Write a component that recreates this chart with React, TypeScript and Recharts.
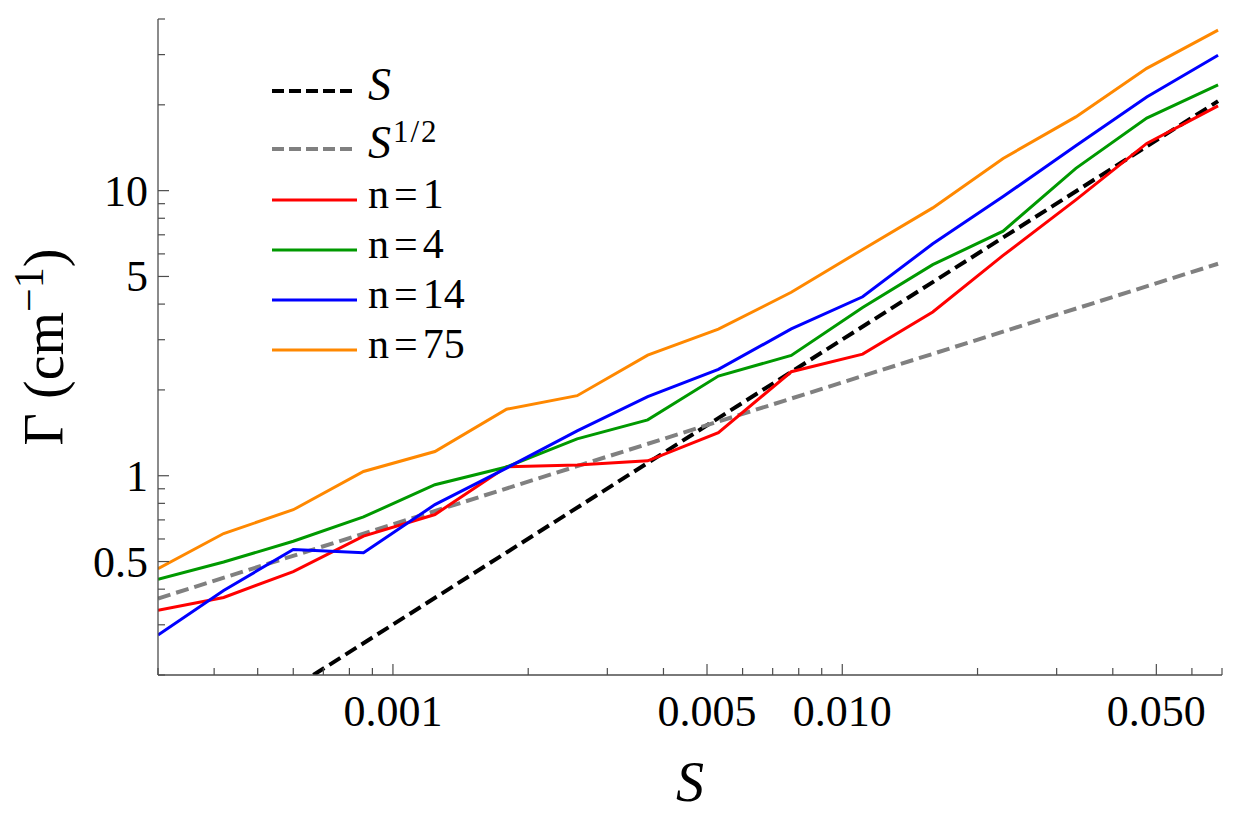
import { Legend, Line, LineChart, XAxis, YAxis } from "recharts";

const FONT = '"Liberation Serif", "Times New Roman", Times, serif';
const AXIS_COLOR = "#4d4d4d";

// S values shared by all simulated series
const sValues = [
    0.0003, 0.00042, 0.0006, 0.00086, 0.00124, 0.00179, 0.00257, 0.00369,
    0.0053, 0.0077, 0.0111, 0.0159, 0.0228, 0.0331, 0.0476, 0.0686,
];

const gammaN1 = [0.337, 0.374, 0.461, 0.614, 0.731, 1.075, 1.09, 1.128, 1.417, 2.316, 2.671, 3.753, 5.926, 9.28, 14.64, 19.83];
const gammaN4 = [0.433, 0.498, 0.589, 0.717, 0.93, 1.073, 1.347, 1.57, 2.237, 2.643, 3.89, 5.499, 7.207, 11.97, 17.96, 23.48];
const gammaN14 = [0.276, 0.396, 0.551, 0.537, 0.792, 1.064, 1.437, 1.894, 2.361, 3.273, 4.243, 6.51, 9.53, 14.37, 21.32, 29.83];
const gammaN75 = [0.472, 0.627, 0.76, 1.035, 1.216, 1.711, 1.909, 2.649, 3.266, 4.4, 6.22, 8.7, 12.97, 18.14, 26.85, 36.55];

// reference power laws (end points)
const linearS = [0.000665, 0.0686];
const linearGamma = [0.2, 20.6];
const sqrtS = [0.0003, 0.0686];
const sqrtGamma = [0.371, 5.54];

const xTicks = [
    0.0003, 0.0004, 0.0005, 0.0006, 0.0007, 0.0008, 0.0009,
    0.001, 0.002, 0.003, 0.004, 0.005, 0.006, 0.007, 0.008, 0.009,
    0.01, 0.02, 0.03, 0.04, 0.05, 0.06, 0.07,
];
const xMajor = [0.001, 0.005, 0.01, 0.05];
const xMajorLabels = ["0.001", "0.005", "0.010", "0.050"];

const yTicks = [
    0.2, 0.3, 0.4, 0.5, 0.6, 0.7, 0.8, 0.9,
    1, 2, 3, 4, 5, 6, 7, 8, 9,
    10, 20, 30, 40,
];
const yMajor = [0.5, 1, 5, 10];
const yMajorLabels = ["0.5", "1", "5", "10"];

const toPoints = (xs: number[], ys: number[]) => xs.map((s, i) => ({ s, g: ys[i] }));

const XTick = ({ x, y, payload }: any) => {
    const idx = xMajor.indexOf(payload.value);
    const major = idx >= 0;
    return (
        <g>
            <line x1={x} x2={x} y1={y} y2={y - (major ? 11 : 7)} stroke={AXIS_COLOR} strokeWidth={1.2} />
            {major && (
                <text x={x} y={y + 51} textAnchor="middle" fontFamily={FONT} fontSize={44} fill="#000">
                    {xMajorLabels[idx]}
                </text>
            )}
        </g>
    );
};

const YTick = ({ x, y, payload }: any) => {
    const idx = yMajor.indexOf(payload.value);
    const major = idx >= 0;
    return (
        <g>
            <line x1={x} x2={x + (major ? 11 : 7)} y1={y} y2={y} stroke={AXIS_COLOR} strokeWidth={1.2} />
            {major && (
                <text x={x - 10} y={y + 15} textAnchor="end" fontFamily={FONT} fontSize={44} fill="#000">
                    {yMajorLabels[idx]}
                </text>
            )}
        </g>
    );
};

const XTitle = ({ viewBox }: any) => (
    <text
        x={viewBox.x + viewBox.width / 2}
        y={viewBox.y + 126}
        textAnchor="middle"
        fontFamily={FONT}
        fontStyle="italic"
        fontSize={56}
        fill="#000"
    >
        S
    </text>
);

const YTitle = ({ viewBox }: any) => {
    const cx = viewBox.x - 15;
    const cy = viewBox.y + viewBox.height / 2;
    return (
        <text
            x={cx}
            y={cy}
            transform={`rotate(-90, ${cx}, ${cy})`}
            textAnchor="middle"
            fontFamily={FONT}
            fontSize={56}
            fill="#000"
        >
            Γ (cm
            <tspan dy={-20} fontSize={42}>−1</tspan>
            <tspan dy={20}>)</tspan>
        </text>
    );
};

const legendRows = [
    { key: "S", color: "#000000", dash: "12 5" },
    { key: "S12", color: "#808080", dash: "12 5" },
    { key: "n=1", color: "#ff0000", dash: undefined },
    { key: "n=4", color: "#009900", dash: undefined },
    { key: "n=14", color: "#0000ff", dash: undefined },
    { key: "n=75", color: "#ff8800", dash: undefined },
];
const legendRowY = [31, 89, 140, 190, 240, 290];

const LegendBox = () => (
    <svg width={260} height={320} style={{ display: "block" }}>
        {legendRows.map((row, i) => {
            const y = legendRowY[i];
            const dashed = row.dash !== undefined;
            let label;
            if (row.key === "S") {
                label = (
                    <text x={108} y={y + 9} fontFamily={FONT} fontStyle="italic" fontSize={46} fill="#000">S</text>
                );
            } else if (row.key === "S12") {
                label = (
                    <text x={108} y={y + 9} fontFamily={FONT} fontSize={46} fill="#000">
                        <tspan fontStyle="italic">S</tspan>
                        <tspan dx={2} dy={-16} fontSize={31} letterSpacing={2}>1/2</tspan>
                    </text>
                );
            } else {
                const num = row.key.slice(2);
                label = (
                    <text x={108} y={y + 8} fontFamily={FONT} fontSize={42} fill="#000">
                        n<tspan dx={5}>=</tspan><tspan dx={5}>{num}</tspan>
                    </text>
                );
            }
            return (
                <g key={row.key}>
                    <line
                        x1={12}
                        x2={dashed ? 93 : 97}
                        y1={y}
                        y2={y}
                        stroke={row.color}
                        strokeWidth={dashed ? 4 : 3}
                        strokeDasharray={row.dash}
                    />
                    {label}
                </g>
            );
        })}
    </svg>
);

export default function App() {
    return (
        <div style={{ position: "absolute", left: 0, top: 0, width: 1240, height: 816, background: "#fff" }}>
            <LineChart width={1240} height={816} margin={{ top: 19, right: 18, left: 78, bottom: 81 }}>
                <XAxis
                    dataKey="s"
                    type="number"
                    scale="log"
                    domain={[0.0003, 0.07]}
                    allowDataOverflow
                    ticks={xTicks}
                    interval={0}
                    height={60}
                    tickSize={0}
                    tickMargin={0}
                    tickLine={false}
                    tick={<XTick />}
                    axisLine={{ stroke: AXIS_COLOR, strokeWidth: 1.3 }}
                    label={{ content: (p: any) => <XTitle {...p} /> }}
                />
                <YAxis
                    type="number"
                    scale="log"
                    domain={[0.2, 40]}
                    allowDataOverflow
                    ticks={yTicks}
                    interval={0}
                    width={80}
                    tickSize={0}
                    tickMargin={0}
                    tickLine={false}
                    tick={<YTick />}
                    axisLine={{ stroke: AXIS_COLOR, strokeWidth: 1.3 }}
                    label={{ content: (p: any) => <YTitle {...p} /> }}
                />
                <Legend
                    layout="vertical"
                    align="center"
                    verticalAlign="middle"
                    wrapperStyle={{ left: 260, top: 60 }}
                    content={() => <LegendBox />}
                />
                <Line data={toPoints(linearS, linearGamma)} dataKey="g" stroke="#000000" strokeWidth={4} strokeDasharray="13 6" dot={false} isAnimationActive={false} />
                <Line data={toPoints(sqrtS, sqrtGamma)} dataKey="g" stroke="#808080" strokeWidth={4} strokeDasharray="13 6" dot={false} isAnimationActive={false} />
                <Line data={toPoints(sValues, gammaN1)} dataKey="g" stroke="#ff0000" strokeWidth={3} dot={false} isAnimationActive={false} />
                <Line data={toPoints(sValues, gammaN4)} dataKey="g" stroke="#009900" strokeWidth={3} dot={false} isAnimationActive={false} />
                <Line data={toPoints(sValues, gammaN14)} dataKey="g" stroke="#0000ff" strokeWidth={3} dot={false} isAnimationActive={false} />
                <Line data={toPoints(sValues, gammaN75)} dataKey="g" stroke="#ff8800" strokeWidth={3} dot={false} isAnimationActive={false} />
            </LineChart>
        </div>
    );
}
